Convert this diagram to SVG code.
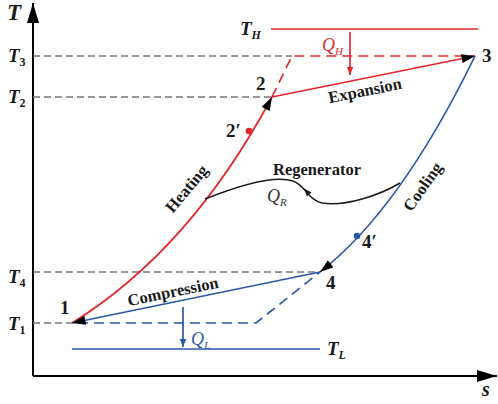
<svg xmlns="http://www.w3.org/2000/svg" width="498" height="404" viewBox="0 0 498 404">
<style>
text{font-family:"Liberation Serif","Times New Roman",serif;font-weight:bold;fill:#1a1a1a}
.it{font-style:italic}
.red{stroke:#e3262b;fill:none;stroke-width:1.7}
.blue{stroke:#2a58a8;fill:none;stroke-width:1.7}
.gray{stroke:#777;fill:none;stroke-width:1.3;stroke-dasharray:7 4}
.lbl{font-size:16.5px}
.num{font-size:19px}
.tk{font-size:19px}
.sub{font-size:12px}
</style>
<defs>
<marker id="ah" viewBox="0 0 12 8" refX="12" refY="4" markerWidth="14" markerHeight="9" markerUnits="userSpaceOnUse" orient="auto"><path d="M0,0 L12,4 L0,8 Z" fill="#000"/></marker>
<marker id="ahr" viewBox="0 0 10 8" refX="10" refY="4" markerWidth="8" markerHeight="7" markerUnits="userSpaceOnUse" orient="auto"><path d="M0,0 L10,4 L0,8 Z" fill="#e3262b"/></marker>
<marker id="ahb" viewBox="0 0 10 8" refX="10" refY="4" markerWidth="8" markerHeight="7" markerUnits="userSpaceOnUse" orient="auto"><path d="M0,0 L10,4 L0,8 Z" fill="#2a58a8"/></marker>
<marker id="axis" viewBox="0 0 20 12" refX="20" refY="6" markerWidth="20" markerHeight="12" markerUnits="userSpaceOnUse" orient="auto"><path d="M0,0 L20,6 L0,12 Z" fill="#000"/></marker>
</defs>

<g id="axes">
<line x1="33" y1="376" x2="33" y2="3" stroke="#000" stroke-width="2" marker-end="url(#axis)"/>
<line x1="33" y1="376" x2="497" y2="376" stroke="#000" stroke-width="2" marker-end="url(#axis)"/>
<text class="it" x="7" y="20" font-size="23">T</text>
<text class="it" x="482" y="396" font-size="20">s</text>
</g>

<g id="ticks">
<text class="it tk" x="8" y="62">T<tspan class="sub" font-style="normal" dy="4">3</tspan></text>
<text class="it tk" x="8" y="103">T<tspan class="sub" font-style="normal" dy="4">2</tspan></text>
<text class="it tk" x="8" y="283">T<tspan class="sub" font-style="normal" dy="4">4</tspan></text>
<text class="it tk" x="8" y="330">T<tspan class="sub" font-style="normal" dy="4">1</tspan></text>
</g>

<g id="connectors">
<path class="gray" d="M33,56 H292"/>
<path class="gray" d="M33,97 H272"/>
<path class="gray" d="M33,272 H320"/>
<path class="gray" d="M33,323 H72"/>
<path class="red" stroke-dasharray="10 6" d="M272,97 L292,56 H475"/>
<path class="blue" stroke-dasharray="10 6" d="M78,323 H256 L320,272"/>
<path class="red" d="M72,323 Q190,250 272,97" marker-end="url(#ah)"/>
<path class="red" d="M272,97 L475,56" marker-end="url(#ah)"/>
<path class="blue" d="M475,56 Q400,210 320,272" marker-end="url(#ah)"/>
<path class="blue" d="M320,272 L72,323" marker-end="url(#ah)"/>
<path class="red" d="M271,29 H478"/>
<path class="blue" d="M72,349 H320"/>
<path class="red" stroke-width="1.3" d="M350,32 V75" marker-end="url(#ahr)"/>
<path class="blue" stroke-width="1.3" d="M183,307 V347" marker-end="url(#ahb)"/>
<path d="M205,199 C240,185 275,175 293,181 C305,185 308,200 322,203 C345,207 380,195 400,183" fill="none" stroke="#1a1a1a" stroke-width="1.5"/>
<path d="M304,188.5 L311.5,192.6 L306.9,196.6 Z" fill="#1a1a1a"/>
</g>

<g id="points">
<circle cx="249" cy="131" r="3.3" fill="#e3262b"/>
<circle cx="357" cy="236" r="3.3" fill="#2a58a8"/>
<text class="num" x="60" y="314">1</text>
<text class="num" x="256" y="90">2</text>
<text class="num" x="482" y="62" font-size="20">3</text>
<text class="num" x="326" y="289">4</text>
<text class="num" x="226" y="137">2′</text>
<text class="num" x="362" y="248">4′</text>
</g>

<g id="TH">
<text class="it tk" x="240" y="35">T<tspan class="sub" dy="4">H</tspan></text>
</g>
<g id="TL">
<text class="it tk" x="327" y="355">T<tspan class="sub" dy="4">L</tspan></text>
</g>
<g id="QH">
<text class="it" x="322" y="51" font-size="18" style="font-weight:normal;fill:#e3262b">Q<tspan font-size="11" dy="4">H</tspan></text>
</g>
<g id="QL">
<text class="it" x="191" y="345" font-size="18" style="font-weight:normal;fill:#2a58a8">Q<tspan font-size="11" dy="4">L</tspan></text>
</g>
<g id="QR">
<text class="it" x="267" y="202" font-size="18" style="font-weight:normal;fill:#333">Q<tspan font-size="11" dy="4">R</tspan></text>
</g>

<g id="labels">
<text class="lbl" x="317" y="175" text-anchor="middle">Regenerator</text>
<text class="lbl" text-anchor="middle" transform="translate(365,91) rotate(-11.4)" y="5">Expansion</text>
<text class="lbl" text-anchor="middle" transform="translate(173,292) rotate(-11.6)" y="5">Compression</text>
<text class="lbl" text-anchor="middle" transform="translate(187,189) rotate(-50)" y="5">Heating</text>
<text class="lbl" text-anchor="middle" transform="translate(423,187) rotate(-55)" y="5">Cooling</text>
</g>
</svg>
